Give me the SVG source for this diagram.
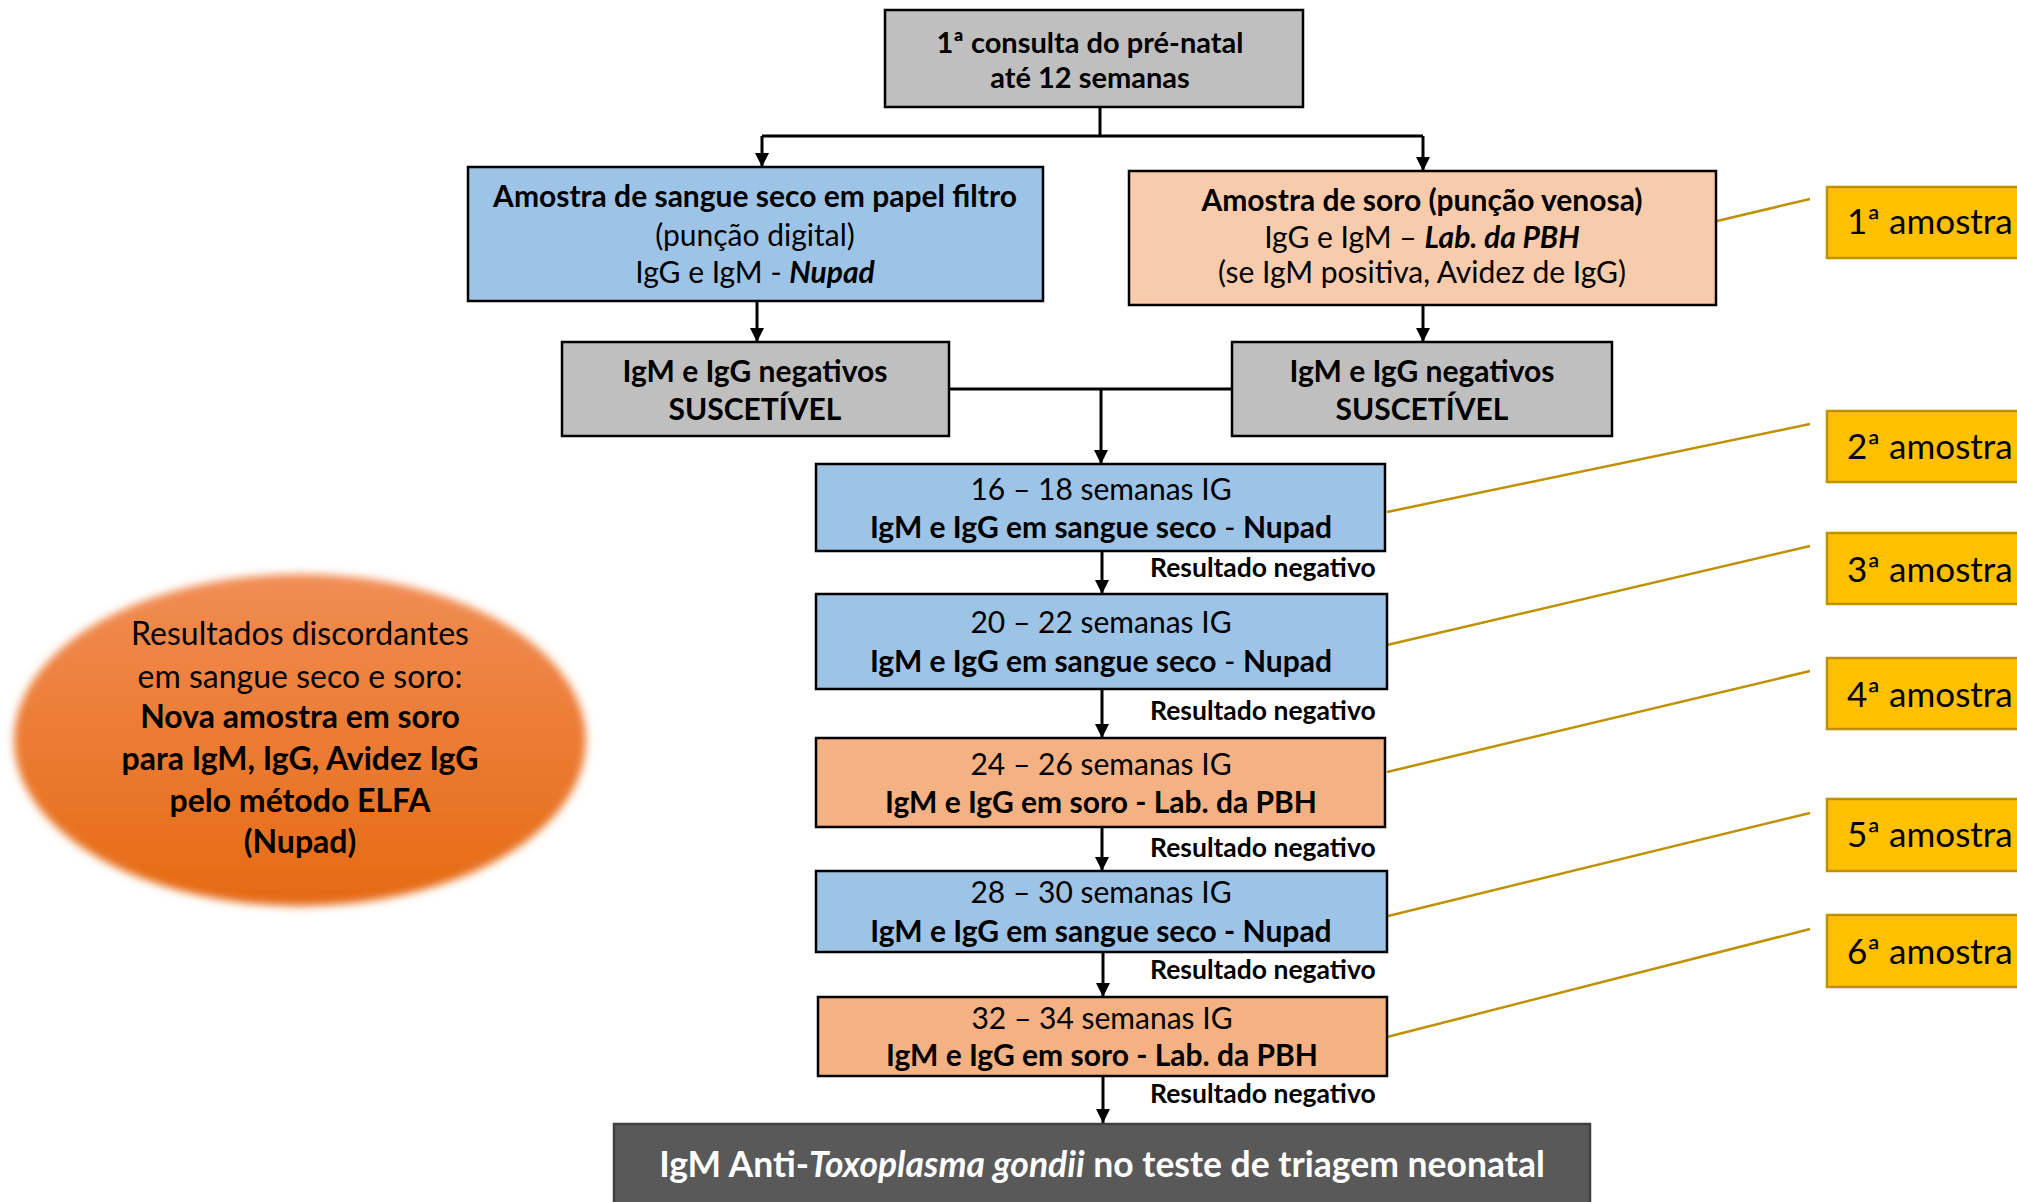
<svg xmlns="http://www.w3.org/2000/svg" width="2017" height="1202" viewBox="0 0 2017 1202">
<style>
text{font-family:Lato,"Liberation Sans",sans-serif;fill:#000}
.c{text-anchor:middle}
.b{font-weight:700}
.i{font-style:italic}
.box{stroke:#000;stroke-width:2.5}
.blue{fill:#9DC3E6}
.peach{fill:#F8CBAD}
.orange{fill:#F4B183}
.grey{fill:#BFBFBF}
.gold{fill:#FFC000;stroke:#BF9000;stroke-width:2.5}
.f29{font-size:29px}
.f30{font-size:30px}
.f26{font-size:26.5px}
.f35{font-size:35px}
.f32{font-size:32px}
.conn{stroke:#000;stroke-width:3;fill:none}
.gl{stroke:#BF9000;stroke-width:2.5;fill:none}
</style>
<defs>
<marker id="ah" viewBox="0 0 10 10" markerWidth="14" markerHeight="14" refX="10" refY="5" orient="auto" markerUnits="userSpaceOnUse">
<path d="M0,0 L10,5 L0,10 z" fill="#000"/>
</marker>
<linearGradient id="og" x1="0" y1="0" x2="0" y2="1">
<stop offset="0" stop-color="#F18D55"/>
<stop offset="1" stop-color="#E56A12"/>
</linearGradient>
<filter id="soft" x="-10%" y="-10%" width="120%" height="120%">
<feGaussianBlur stdDeviation="4"/>
</filter>
</defs>

<g id="connectors">
<polyline class="conn" points="1100,107 1100,136"/>
<polyline class="conn" points="762,136 1423,136"/>
<line class="conn" x1="762" y1="136" x2="762" y2="167" marker-end="url(#ah)"/>
<line class="conn" x1="1423" y1="136" x2="1423" y2="171" marker-end="url(#ah)"/>
<line class="conn" x1="757" y1="301" x2="757" y2="342" marker-end="url(#ah)"/>
<line class="conn" x1="1423" y1="305" x2="1423" y2="342" marker-end="url(#ah)"/>
<polyline class="conn" points="949,389 1232,389"/>
<line class="conn" x1="1101" y1="389" x2="1101" y2="464" marker-end="url(#ah)"/>
<line class="conn" x1="1102" y1="551" x2="1102" y2="594" marker-end="url(#ah)"/>
<line class="conn" x1="1102" y1="689" x2="1102" y2="738" marker-end="url(#ah)"/>
<line class="conn" x1="1102" y1="827" x2="1102" y2="871" marker-end="url(#ah)"/>
<line class="conn" x1="1103" y1="952" x2="1103" y2="997" marker-end="url(#ah)"/>
<line class="conn" x1="1103" y1="1076" x2="1103" y2="1123" marker-end="url(#ah)"/>
<line class="gl" x1="1717" y1="221" x2="1810" y2="199"/>
<line class="gl" x1="1387" y1="512" x2="1810" y2="424"/>
<line class="gl" x1="1387" y1="645" x2="1810" y2="546"/>
<line class="gl" x1="1387" y1="772" x2="1810" y2="671"/>
<line class="gl" x1="1388" y1="916" x2="1810" y2="813"/>
<line class="gl" x1="1387" y1="1037" x2="1810" y2="929"/>
</g>

<g id="n-top">
<rect class="box grey" x="885" y="10" width="418" height="97"/>
<text class="c b f29" x="1090" y="53">1ª consulta do pré-natal</text>
<text class="c b f29" x="1090" y="88">até 12 semanas</text>
</g>

<g id="n-sangue">
<rect class="box blue" x="468" y="167" width="575" height="134"/>
<text class="c b f30" x="755" y="207">Amostra de sangue seco em papel filtro</text>
<text class="c f30" x="755" y="246">(punção digital)</text>
<text class="c f30" x="755" y="283">IgG e IgM - <tspan class="b i">Nupad</tspan></text>
</g>

<g id="n-soro">
<rect class="box peach" x="1129" y="171" width="587" height="134"/>
<text class="c b f30" x="1422" y="211">Amostra de soro (punção venosa)</text>
<text class="c f30" x="1422" y="248">IgG e IgM – <tspan class="b i">Lab. da PBH</tspan></text>
<text class="c f30" x="1422" y="283">(se IgM positiva, Avidez de IgG)</text>
</g>

<g id="n-neg1">
<rect class="box grey" x="562" y="342" width="387" height="94"/>
<text class="c b f30" x="755" y="382">IgM e IgG negativos</text>
<text class="c b f30" x="755" y="420">SUSCETÍVEL</text>
</g>

<g id="n-neg2">
<rect class="box grey" x="1232" y="342" width="380" height="94"/>
<text class="c b f30" x="1422" y="382">IgM e IgG negativos</text>
<text class="c b f30" x="1422" y="420">SUSCETÍVEL</text>
</g>

<g id="n-16">
<rect class="box blue" x="816" y="464" width="569" height="87"/>
<text class="c f30" x="1101" y="500">16 – 18 semanas IG</text>
<text class="c f30" x="1101" y="538"><tspan class="b">IgM e IgG em sangue seco</tspan> - <tspan class="b">Nupad</tspan></text>
</g>

<g id="n-20">
<rect class="box blue" x="816" y="594" width="571" height="95"/>
<text class="c f30" x="1101" y="633">20 – 22 semanas IG</text>
<text class="c f30" x="1101" y="672"><tspan class="b">IgM e IgG em sangue seco</tspan> - <tspan class="b">Nupad</tspan></text>
</g>

<g id="n-24">
<rect class="box orange" x="816" y="738" width="569" height="89"/>
<text class="c f30" x="1101" y="775">24 – 26 semanas IG</text>
<text class="c b f30" x="1101" y="813">IgM e IgG em soro - Lab. da PBH</text>
</g>

<g id="n-28">
<rect class="box blue" x="816" y="871" width="571" height="81"/>
<text class="c f30" x="1101" y="903">28 – 30 semanas IG</text>
<text class="c b f30" x="1101" y="942">IgM e IgG em sangue seco - Nupad</text>
</g>

<g id="n-32">
<rect class="box orange" x="818" y="997" width="569" height="79"/>
<text class="c f30" x="1102" y="1029">32 – 34 semanas IG</text>
<text class="c b f30" x="1102" y="1066">IgM e IgG em soro - Lab. da PBH</text>
</g>

<g id="labels">
<text class="b f26" x="1150" y="577">Resultado negativo</text>
<text class="b f26" x="1150" y="720">Resultado negativo</text>
<text class="b f26" x="1150" y="857">Resultado negativo</text>
<text class="b f26" x="1150" y="979">Resultado negativo</text>
<text class="b f26" x="1150" y="1103">Resultado negativo</text>
</g>

<g id="n-final">
<rect x="614" y="1124" width="976" height="90" fill="#595959" stroke="#404040" stroke-width="2.5"/>
<text class="c b" x="1102" y="1177" style="font-size:35.5px;fill:#fff">IgM Anti-<tspan class="i">Toxoplasma gondii</tspan> no teste de triagem neonatal</text>
</g>

<g id="n-oval">
<ellipse cx="300" cy="740" rx="286" ry="166" fill="url(#og)" filter="url(#soft)"/>
<text class="c f32" x="300" y="645">Resultados discordantes</text>
<text class="c f32" x="300" y="688">em sangue seco e soro:</text>
<text class="c b f32" x="300" y="728">Nova amostra em soro</text>
<text class="c b f32" x="300" y="770">para IgM, IgG, Avidez IgG</text>
<text class="c b f32" x="300" y="812">pelo método ELFA</text>
<text class="c b f32" x="300" y="853">(Nupad)</text>
</g>

<g id="n-a1"><rect class="gold" x="1827" y="187" width="200" height="71"/><text class="f35" x="1847" y="234">1ª amostra</text></g>
<g id="n-a2"><rect class="gold" x="1827" y="411" width="200" height="71"/><text class="f35" x="1847" y="459">2ª amostra</text></g>
<g id="n-a3"><rect class="gold" x="1827" y="533" width="200" height="71"/><text class="f35" x="1847" y="582">3ª amostra</text></g>
<g id="n-a4"><rect class="gold" x="1827" y="658" width="200" height="71"/><text class="f35" x="1847" y="707">4ª amostra</text></g>
<g id="n-a5"><rect class="gold" x="1827" y="799" width="200" height="72"/><text class="f35" x="1847" y="847">5ª amostra</text></g>
<g id="n-a6"><rect class="gold" x="1827" y="915" width="200" height="72"/><text class="f35" x="1847" y="964">6ª amostra</text></g>
</svg>
